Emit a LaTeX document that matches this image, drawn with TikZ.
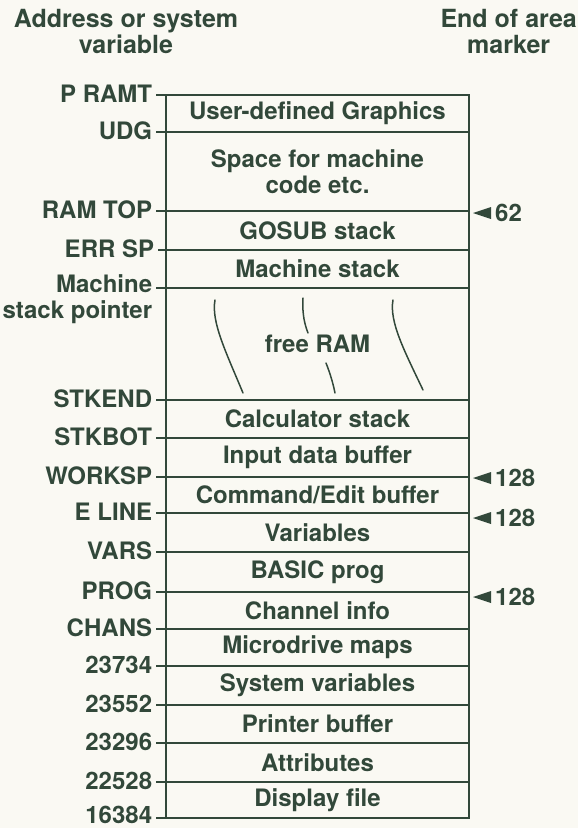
\documentclass[tikz,border=0pt]{standalone}
\usepackage{fontspec}
\setmainfont{TeX Gyre Heros}
\usetikzlibrary{positioning,calc}
\definecolor{ink}{RGB}{50,72,58}
\definecolor{paper}{RGB}{250,249,243}
\newcommand{\mapfont}{\bfseries\fontsize{24}{26}\selectfont}
\tikzset{
  % one area of the memory map
  area/.style={draw=ink, line width=1.8pt, outer sep=0pt, inner sep=0pt,
    minimum width=303pt, text=ink, font=\mapfont, align=center},
  % address or system variable on the left of a boundary
  addr/.style={anchor=east, inner xsep=3pt, inner ysep=0pt, yshift=1.5pt,
    text=ink, font=\mapfont, align=right},
  tickln/.style={ink, line width=1.8pt},
  % end of area marker values
  markval/.style={anchor=west, inner sep=0pt, text=ink, font=\mapfont},
  heading/.style={align=center, inner sep=1pt, text=ink,
    font=\bfseries\fontsize{25}{26}\selectfont},
  % the wavy strokes in free RAM
  wave/.style={ink, line width=1.5pt, line cap=round},
}
\newcommand{\areamark}[3]{%
  \fill[ink] #2 -- ++(18,-6) -- ++(0,12) -- cycle;
  \node[markval] (#1) at ($#2+(22,0)$) {#3};
}

\begin{document}
\begin{tikzpicture}[x=1pt, y=-1pt]
  \fill[paper] (0,0) rectangle (578,828);
  \useasboundingbox (0,0) rectangle (578,828);
  % column headings
  \node[heading] (hleft) at (126,31) {Address or system\\variable};
  \node[heading, anchor=east] (hright) at (578,31) {End of area\\marker};
  % the areas, top of RAM first
  \node[area, minimum height=37pt] (udg) at (317.5,113.5) {User-defined Graphics};
  \node[area, minimum height=79pt, below=0pt of udg] (mcode) {Space for machine\\code etc.};
  \node[area, minimum height=39pt, below=0pt of mcode] (gosub) {GOSUB stack};
  \node[area, minimum height=38pt, below=0pt of gosub] (mstack) {Machine stack};
  \node[area, minimum height=112pt, below=0pt of mstack] (free) {free RAM};
  \node[area, minimum height=38pt, below=0pt of free] (calc) {Calculator stack};
  \node[area, minimum height=39pt, below=0pt of calc] (input) {Input data buffer};
  \node[area, minimum height=36pt, below=0pt of input] (edit) {Command/Edit buffer};
  \node[area, minimum height=39pt, below=0pt of edit] (vars) {Variables};
  \node[area, minimum height=40pt, below=0pt of vars] (prog) {BASIC prog};
  \node[area, minimum height=37pt, below=0pt of prog] (chans) {Channel info};
  \node[area, minimum height=37pt, below=0pt of chans] (mdrive) {Microdrive maps};
  \node[area, minimum height=39pt, below=0pt of mdrive] (sysvars) {System variables};
  \node[area, minimum height=38pt, below=0pt of sysvars] (printer) {Printer buffer};
  \node[area, minimum height=39pt, below=0pt of printer] (attr) {Attributes};
  \node[area, minimum height=36pt, below=0pt of attr] (display) {Display file};
  % free RAM strokes
  \draw[wave] (215,300) .. controls (211,322) and (226,352) .. (243,393);
  \draw[wave] (303,298) .. controls (302,315) and (305,325) .. (308,333);
  \draw[wave] (326,363) .. controls (330,373) and (333,383) .. (335,393);
  \draw[wave] (393,300) .. controls (389,322) and (405,352) .. (423,390);
  % boundaries and their names
  \draw[tickln] (udg.north west) -- ++(-10,0) node[addr] (lpramt) {P RAMT};
  \draw[tickln] (mcode.north west) -- ++(-10,0) node[addr] (ludg) {UDG};
  \draw[tickln] (gosub.north west) -- ++(-10,0) node[addr] (lramtop) {RAM TOP};
  \draw[tickln] (mstack.north west) -- ++(-8,0) node[addr] (lerrsp) {ERR SP};
  \draw[tickln] (free.north west) -- ++(-10,0)
    node[addr, yshift=-13pt] (lmsp) {Machine\\stack pointer};
  \draw[tickln] (calc.north west) -- ++(-10,0) node[addr] (lstkend) {STKEND};
  \draw[tickln] (input.north west) -- ++(-10,0) node[addr] (lstkbot) {STKBOT};
  \draw[tickln] (edit.north west) -- ++(-10,0) node[addr] (lworksp) {WORKSP};
  \draw[tickln] (vars.north west) -- ++(-10,0) node[addr] (leline) {E LINE};
  \draw[tickln] (prog.north west) -- ++(-10,0) node[addr] (lvars) {VARS};
  \draw[tickln] (chans.north west) -- ++(-10,0) node[addr] (lprog) {PROG};
  \draw[tickln] (mdrive.north west) -- ++(-10,0) node[addr] (lchans) {CHANS};
  \draw[tickln] (sysvars.north west) -- ++(-10,0) node[addr] (la) {23734};
  \draw[tickln] (printer.north west) -- ++(-10,0) node[addr] (lb) {23552};
  \draw[tickln] (attr.north west) -- ++(-10,0) node[addr] (lc) {23296};
  \draw[tickln] (display.north west) -- ++(-10,0) node[addr] (ld) {22528};
  \draw[tickln] (display.south west) -- ++(-10,0)
    node[addr, yshift=1.5pt] (le) {16384};
  % end of area markers
  \areamark{mtop}{($(gosub.north east)+(4,2)$)}{62}
  \areamark{mwork}{($(edit.north east)+(4,1)$)}{128}
  \areamark{meline}{($(vars.north east)+(4,5)$)}{128}
  \areamark{mprog}{($(chans.north east)+(4,5)$)}{128}
\end{tikzpicture}
\end{document}
